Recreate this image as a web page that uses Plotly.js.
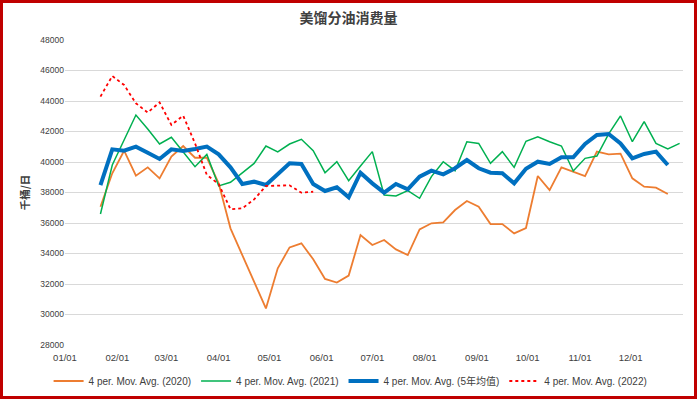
<!DOCTYPE html>
<html>
<head>
<meta charset="utf-8">
<script src="https://cdn.plot.ly/plotly-3.0.1.min.js"></script>
<style>
  html, body { margin:0; padding:0; background:#fff; }
  #wrap { position:relative; width:697px; height:399px; }
  #chart { position:absolute; left:0; top:0; width:697px; height:399px; }
  #frame { position:absolute; left:0; top:0; width:697px; height:399px; box-sizing:border-box;
           border:3px solid #C00000; pointer-events:none; }
</style>
</head>
<body>
<div id="wrap"><div id="chart"></div><div id="frame"></div></div>
<script>
// Weekly dates (4-period moving averages), plotted on a Jan–Dec date axis
const weeks = [
  '2020-01-22','2020-01-29','2020-02-05','2020-02-12','2020-02-19','2020-02-26',
  '2020-03-04','2020-03-11','2020-03-18','2020-03-25','2020-04-01','2020-04-08',
  '2020-04-15','2020-04-22','2020-04-29','2020-05-06','2020-05-13','2020-05-20',
  '2020-05-27','2020-06-03','2020-06-10','2020-06-17','2020-06-24','2020-07-01',
  '2020-07-08','2020-07-15','2020-07-22','2020-07-29','2020-08-05','2020-08-12',
  '2020-08-19','2020-08-26','2020-09-02','2020-09-09','2020-09-16','2020-09-23',
  '2020-09-30','2020-10-07','2020-10-14','2020-10-21','2020-10-28','2020-11-04',
  '2020-11-11','2020-11-18','2020-11-25','2020-12-02','2020-12-09','2020-12-16',
  '2020-12-23','2020-12-30'
];
const monthTicks = ['2020-01-01','2020-02-01','2020-03-01','2020-04-01','2020-05-01','2020-06-01',
                    '2020-07-01','2020-08-01','2020-09-01','2020-10-01','2020-11-01','2020-12-01'];
const monthLabels = ['01/01','02/01','03/01','04/01','05/01','06/01',
                     '07/01','08/01','09/01','10/01','11/01','12/01'];

const y2020 = [37070,39260,40740,39100,39650,38930,40350,41050,40280,40280,
               38600,35650,33900,32150,30400,33030,34400,34670,33620,32330,
               32090,32550,35210,34560,34890,34270,33900,35580,35980,36040,
               36850,37440,37070,35930,35930,35320,35670,39080,38160,39650,
               39370,39080,40680,40500,40550,38930,38380,38320,37900];

const y2021 = [36590,39800,41440,43080,42160,41180,41620,40680,39690,40500,
               38430,38670,39300,39910,41050,40660,41180,41490,40740,39300,
               40020,38780,39740,40680,37840,37770,38120,37620,39040,40020,
               39430,41330,41220,39910,40680,39650,41360,41660,41330,41050,
               39410,40240,40390,41840,43020,41330,42650,41220,40850,41220];

const y5yr  = [38490,40830,40740,41010,40610,40200,40830,40720,40850,41010,
               40500,39650,38560,38710,38490,39210,39910,39870,38560,38100,
               38340,37680,39300,38600,37990,38560,38210,39040,39430,39190,
               39590,40130,39590,39300,39260,38600,39560,40020,39870,40310,
               40310,41180,41770,41840,41220,40240,40530,40680,39800];

const y2022 = [44290,45640,45050,43850,43240,43910,42430,43040,41220,39150,
               38560,36900,36960,37550,38430,38450,38470,37990,38050];

const names = ['4 per. Mov. Avg. (2020)','4 per. Mov. Avg. (2021)',
               '4 per. Mov. Avg. (5年均值)','4 per. Mov. Avg. (2022)'];
const yTicks = [28000,30000,32000,34000,36000,38000,40000,42000,44000,46000,48000];

const traces = [
  {x: weeks.slice(0, y2020.length), y: y2020, name: names[0], mode:'lines',
   line:{color:'#ED7D31', width:1.8}},
  {x: weeks.slice(0, y2021.length), y: y2021, name: names[1], mode:'lines',
   line:{color:'#00B050', width:1.5}},
  {x: weeks.slice(0, y5yr.length), y: y5yr, name: names[2], mode:'lines',
   line:{color:'#0070C0', width:4}},
  {x: weeks.slice(0, y2022.length), y: y2022, name: names[3], mode:'lines',
   line:{color:'#FF0000', width:1.8, dash:'dot'}}
];

const fontFam = '"Liberation Sans", "Noto Sans CJK SC", Arial, sans-serif';
const layout = {
  width: 697, height: 399,
  margin: {l:65, r:14, t:40, b:54},
  paper_bgcolor:'#fff', plot_bgcolor:'#fff',
  showlegend: true,
  title: {text:'<b>美馏分油消费量</b>', x:0.5, xanchor:'center', y:0.955, yanchor:'middle',
          font:{family:'"Noto Sans CJK SC", sans-serif', size:14, color:'#404040'}},
  xaxis: {
    type:'date', range:['2020-01-01','2021-01-01'],
    tickvals: monthTicks, ticktext: monthLabels, ticklabelstandoff: 5,
    showgrid:false, zeroline:false, showline:false, ticks:'',
    tickfont:{family:fontFam, size:9.5, color:'#404040'}
  },
  yaxis: {
    range:[28000,48000], tickvals:yTicks, ticktext:yTicks.map(String),
    showgrid:true, gridcolor:'#D9D9D9', gridwidth:1, zeroline:false, showline:false, ticks:'',
    tickfont:{family:fontFam, size:8.5, color:'#404040'},
    title:{text:'<b>千桶/日</b>', standoff:8,
           font:{family:'"Noto Sans CJK SC", sans-serif', size:10.5, color:'#404040'}}
  },
  legend: {orientation:'h', xref:'container', yref:'container',
           x:0.503, xanchor:'center', y:(399-381)/399, yanchor:'middle',
           font:{family:fontFam, size:10, color:'#404040'}, bgcolor:'rgba(0,0,0,0)'}
};

Plotly.newPlot('chart', traces, layout, {displayModeBar:false, staticPlot:true});
</script>
</body>
</html>
